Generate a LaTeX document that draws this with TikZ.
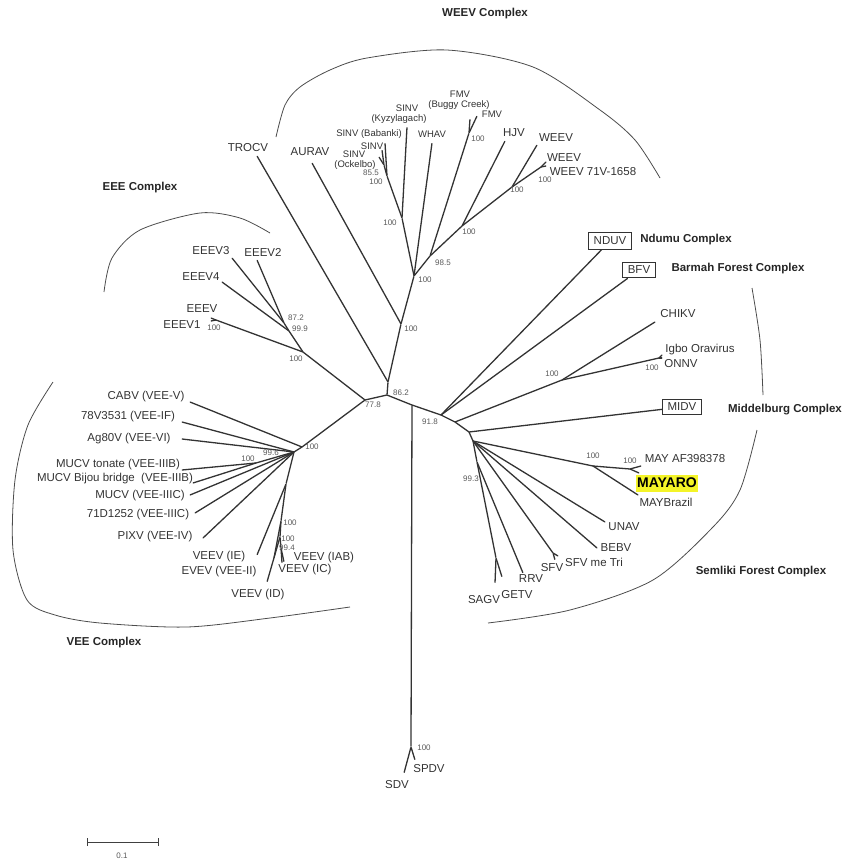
\documentclass[tikz,border=0pt]{standalone}
\usepackage{fontspec}
\setmainfont{Liberation Sans}
\definecolor{hl}{RGB}{244,244,40}
\begin{document}
\begin{tikzpicture}[x=1pt,y=-1pt]
\tikzstyle{every node}=[inner sep=0pt, minimum width=0pt, text=black!80]
\tikzstyle{lbl}=[font=\fontsize{11.5}{12}\selectfont]
\tikzstyle{lbs}=[font=\fontsize{9.5}{10}\selectfont]
\tikzstyle{bs}=[font=\fontsize{8}{8}\selectfont, text=black!65]
\tikzstyle{cplx}=[font=\fontsize{11.5}{12}\selectfont\bfseries, text=black!85]
\tikzstyle{vbox}=[draw=black!80, line width=1pt, inner xsep=5pt, inner ysep=4pt, lbl]
\tikzstyle{br}=[line width=1.3pt, black!80, line cap=round]
\tikzstyle{arc}=[line width=0.8pt, black!70]
\useasboundingbox (0,0) rectangle (842,862);
% inner nodes
\draw (412,405) node (cbase) {};
\draw (387,395) node (c862) {};
\draw (365,400) node (c778) {};
\draw (388,382) node (ctr) {};
\draw (401,324) node (c100a) {};
\draw (414,276) node (cW0) {};
\draw (402,218) node (cS1) {};
\draw (387,176) node (cS2) {};
\draw (384,165) node (cS3) {};
\draw (430,256) node (c985) {};
\draw (469,133) node (cFMV) {};
\draw (462,226) node (cHJV) {};
\draw (512,187) node (cWE) {};
\draw (541,167) node (cWE71) {};
\draw (303,352) node (cE0) {};
\draw (289,331) node (cE99) {};
\draw (284,323) node (cE87) {};
\draw (216,320) node (cE1) {};
\draw (302,447) node (cV0) {};
\draw (294,452) node (cJ) {};
\draw (256,463) node (cM) {};
\draw (286,484) node (cK) {};
\draw (281,521) node (cL) {};
\draw (280,537) node (cN) {};
\draw (281,548) node (cO) {};
\draw (411,747) node (cSD) {};
\draw (441,415) node (cR0) {};
\draw (455,422) node (cR2) {};
\draw (469,432) node (cR3) {};
\draw (473,441) node (cR4) {};
\draw (562,380) node (cCH) {};
\draw (659,358) node (cON) {};
\draw (477,462) node (cP) {};
\draw (496,558) node (cSG) {};
\draw (553,553) node (cSF) {};
\draw (593,466) node (cMA) {};
\draw (630,469) node (cMA2) {};
% leaves
\draw (257,156) node (lTROCV) {};
\draw (312,163) node (lAURAV) {};
\draw (407,127) node (lKyz) {};
\draw (385,143) node (lBab) {};
\draw (382,150) node (lSINV) {};
\draw (379,157) node (lOck) {};
\draw (432,143) node (lWHAV) {};
\draw (470,119) node (lFMVbc) {};
\draw (477,116) node (lFMV) {};
\draw (505,141) node (lHJV) {};
\draw (537,145) node (lWEEV) {};
\draw (546,162) node (lWEEVa) {};
\draw (546,166) node (lWEEVb) {};
\draw (232,258) node (lEEEV3) {};
\draw (257,260) node (lEEEV2) {};
\draw (222,282) node (lEEEV4) {};
\draw (211,318) node (lEEEV) {};
\draw (211,321) node (lEEEV1) {};
\draw (190,402) node (lCABV) {};
\draw (182,422) node (l78V) {};
\draw (182,439) node (lAg80) {};
\draw (182,470) node (lTon) {};
\draw (193,483) node (lBij) {};
\draw (190,495) node (lMUC) {};
\draw (195,513) node (l71D) {};
\draw (203,538) node (lPIXV) {};
\draw (257,555) node (lIE) {};
\draw (274,558) node (lEVEV) {};
\draw (267,582) node (lID) {};
\draw (284,562) node (lIAB) {};
\draw (282,563) node (lIC) {};
\draw (404,773) node (lSDV) {};
\draw (415,760) node (lSPDV) {};
\draw (655,322) node (lCHIKV) {};
\draw (662,355) node (lIgbo) {};
\draw (662,358) node (lONNV) {};
\draw (641,466) node (lMAYAF) {};
\draw (639,473) node (lMAYARO) {};
\draw (638,495) node (lMAYBr) {};
\draw (605,522) node (lUNAV) {};
\draw (597,548) node (lBEBV) {};
\draw (555,560) node (lSFV) {};
\draw (558,556) node (lSFVme) {};
\draw (523,573) node (lRRV) {};
\draw (495,583) node (lSAGV) {};
\draw (502,577) node (lGETV) {};
% boxed taxa
\node (NDUV) [vbox] at (610,241) {NDUV};
\node (BFV) [vbox] at (639,270) {BFV};
\node (MIDV) [vbox] at (682,407) {MIDV};
% branches
\draw[br] (c778) -- (c862) -- (cbase) -- (cR0) -- (cR2) -- (cR3) -- (cR4);
\draw[br] (cbase) -- (cSD);
\draw[br] (cSD) -- (lSDV);
\draw[br] (cSD) -- (lSPDV);
\draw[br] (c862) -- (ctr);
\draw[br] (ctr) -- (c100a);
\draw[br] (c100a) -- (cW0);
\draw[br] (ctr) -- (lTROCV);
\draw[br] (c100a) -- (lAURAV);
\draw[br] (cW0) -- (cS1);
\draw[br] (cS1) -- (lKyz);
\draw[br] (cS1) -- (cS2);
\draw[br] (cS2) -- (lBab);
\draw[br] (cS2) -- (cS3);
\draw[br] (cS3) -- (lSINV);
\draw[br] (cS3) -- (lOck);
\draw[br] (cW0) -- (lWHAV);
\draw[br] (cW0) -- (c985);
\draw[br] (c985) -- (cFMV);
\draw[br] (cFMV) -- (lFMVbc);
\draw[br] (cFMV) -- (lFMV);
\draw[br] (c985) -- (cHJV);
\draw[br] (cHJV) -- (lHJV);
\draw[br] (cHJV) -- (cWE);
\draw[br] (cWE) -- (lWEEV);
\draw[br] (cWE) -- (cWE71);
\draw[br] (cWE71) -- (lWEEVa);
\draw[br] (cWE71) -- (lWEEVb);
\draw[br] (c778) -- (cE0);
\draw[br] (cE0) -- (cE1);
\draw[br] (cE1) -- (lEEEV);
\draw[br] (cE1) -- (lEEEV1);
\draw[br] (cE0) -- (cE99);
\draw[br] (cE99) -- (lEEEV4);
\draw[br] (cE99) -- (cE87);
\draw[br] (cE87) -- (lEEEV3);
\draw[br] (cE87) -- (lEEEV2);
\draw[br] (c778) -- (cV0);
\draw[br] (cV0) -- (lCABV);
\draw[br] (cV0) -- (cJ);
\draw[br] (cJ) -- (l78V);
\draw[br] (cJ) -- (lAg80);
\draw[br] (cJ) -- (cM);
\draw[br] (cM) -- (lTon);
\draw[br] (cM) -- (lBij);
\draw[br] (cJ) -- (lMUC);
\draw[br] (cJ) -- (l71D);
\draw[br] (cJ) -- (lPIXV);
\draw[br] (cJ) -- (cK);
\draw[br] (cK) -- (lIE);
\draw[br] (cK) -- (cL);
\draw[br] (cL) -- (lEVEV);
\draw[br] (cL) -- (cN);
\draw[br] (cN) -- (lID);
\draw[br] (cN) -- (cO);
\draw[br] (cO) -- (lIAB);
\draw[br] (cO) -- (lIC);
\draw[br] (cR0) -- (NDUV);
\draw[br] (cR0) -- (BFV);
\draw[br] (cR2) -- (cCH);
\draw[br] (cCH) -- (lCHIKV);
\draw[br] (cCH) -- (cON);
\draw[br] (cON) -- (lIgbo);
\draw[br] (cON) -- (lONNV);
\draw[br] (cR3) -- (MIDV);
\draw[br] (cR4) -- (cMA);
\draw[br] (cMA) -- (cMA2);
\draw[br] (cMA2) -- (lMAYAF);
\draw[br] (cMA2) -- (lMAYARO);
\draw[br] (cMA) -- (lMAYBr);
\draw[br] (cR4) -- (lUNAV);
\draw[br] (cR4) -- (lBEBV);
\draw[br] (cR4) -- (cSF);
\draw[br] (cSF) -- (lSFV);
\draw[br] (cSF) -- (lSFVme);
\draw[br] (cR4) -- (cP);
\draw[br] (cP) -- (lRRV);
\draw[br] (cP) -- (cSG);
\draw[br] (cSG) -- (lSAGV);
\draw[br] (cSG) -- (lGETV);
% support values
\node (b862) [bs] at (401,393) {86.2};
\node (b778) [bs] at (373,405) {77.8};
\node (b918) [bs] at (430,422) {91.8};
\node (b100a) [bs] at (411,329) {100};
\node (bW0) [bs] at (425,280) {100};
\node (bS1) [bs] at (390,223) {100};
\node (bS3) [bs] at (371,173) {85.5};
\node (bS2) [bs] at (376,182) {100};
\node (b985) [bs] at (443,263) {98.5};
\node (bFMV) [bs] at (478,139) {100};
\node (bHJV) [bs] at (469,232) {100};
\node (bWE) [bs] at (517,190) {100};
\node (bWE71) [bs] at (545,180) {100};
\node (bE0) [bs] at (296,359) {100};
\node (bE99) [bs] at (300,329) {99.9};
\node (bE87) [bs] at (296,318) {87.2};
\node (bE1) [bs] at (214,328) {100};
\node (bV0) [bs] at (312,447) {100};
\node (bJ) [bs] at (271,453) {99.6};
\node (bM) [bs] at (248,459) {100};
\node (bL) [bs] at (290,523) {100};
\node (bN) [bs] at (288,539) {100};
\node (bO) [bs] at (287,548) {99.4};
\node (bSD) [bs] at (424,748) {100};
\node (bCH) [bs] at (552,374) {100};
\node (bON) [bs] at (652,368) {100};
\node (bMA) [bs] at (593,456) {100};
\node (bMA2) [bs] at (630,461) {100};
\node (bP) [bs] at (471,479) {99.3};
% taxon names
\node (tTROCV) [lbl] at (248,148) {TROCV};
\node (tAURAV) [lbl] at (310,152) {AURAV};
\node (tBab) [lbs] at (369,134) {SINV (Babanki)};
\node (tSINV) [lbs] at (372,146) {SINV};
\node (tOck) [lbs] at (354,154) {SINV};
\node (tOck2) [lbs] at (355,165) {(Ockelbo)};
\node (tKyz) [lbs] at (407,108) {SINV};
\node (tKyz2) [lbs] at (399,119) {(Kyzylagach)};
\node (tWHAV) [lbs] at (432,134) {WHAV};
\node (tFMVbc) [lbs] at (460,94) {FMV};
\node (tFMVbc2) [lbs] at (459,105) {(Buggy Creek)};
\node (tFMV) [lbs] at (492,114) {FMV};
\node (tHJV) [lbl] at (514,133) {HJV};
\node (tWEEV) [lbl] at (556,138) {WEEV};
\node (tWEEVa) [lbl] at (564,158) {WEEV};
\node (tWEEVb) [lbl] at (593,172) {WEEV 71V-1658};
\node (tEEEV3) [lbl] at (211,251) {EEEV3};
\node (tEEEV2) [lbl] at (263,252) {EEEV2};
\node (tEEEV4) [lbl] at (201,277) {EEEV4};
\node (tEEEV) [lbl] at (202,309) {EEEV};
\node (tEEEV1) [lbl] at (182,325) {EEEV1};
\node (tCABV) [lbl] at (146,397) {CABV (VEE-V)};
\node (t78V) [lbl] at (128,417) {78V3531 (VEE-IF)};
\node (tAg80) [lbl] at (129,439) {Ag80V (VEE-VI)};
\node (tTon) [lbl] at (118,465) {MUCV tonate (VEE-IIIB)};
\node (tBij) [lbl] at (115,479) {MUCV Bijou bridge\ \ (VEE-IIIB)};
\node (tMUC) [lbl] at (140,496) {MUCV (VEE-IIIC)};
\node (t71D) [lbl] at (138,515) {71D1252 (VEE-IIIC)};
\node (tPIXV) [lbl] at (155,537) {PIXV (VEE-IV)};
\node (tIE) [lbl] at (219,557) {VEEV (IE)};
\node (tEVEV) [lbl] at (219,572) {EVEV (VEE-II)};
\node (tID) [lbl] at (258,595) {VEEV (ID)};
\node (tIAB) [lbl] at (324,558) {VEEV (IAB)};
\node (tIC) [lbl] at (305,570) {VEEV (IC)};
\node (tSDV) [lbl] at (397,785) {SDV};
\node (tSPDV) [lbl] at (429,769) {SPDV};
\node (tCHIKV) [lbl] at (678,314) {CHIKV};
\node (tIgbo) [lbl] at (700,350) {Igbo Oravirus};
\node (tONNV) [lbl] at (681,364) {ONNV};
\node (tMAYAF) [lbl] at (685,459) {MAY AF398378};
\node (tMAYARO) [fill=hl, inner xsep=1.5pt, minimum height=17pt, text=black, font=\fontsize{14}{14}\selectfont\bfseries] at (667,483) {MAYARO};
\node (tMAYBr) [lbl] at (666,502) {MAYBrazil};
\node (tUNAV) [lbl] at (624,527) {UNAV};
\node (tBEBV) [lbl] at (616,548) {BEBV};
\node (tSFVme) [lbl] at (594,562) {SFV me Tri};
\node (tSFV) [lbl] at (552,568) {SFV};
\node (tRRV) [lbl] at (531,579) {RRV};
\node (tGETV) [lbl] at (517,595) {GETV};
\node (tSAGV) [lbl] at (484,600) {SAGV};
% complexes
\node (kWEEV) [cplx] at (485,14) {WEEV Complex};
\node (kEEE) [cplx] at (140,188) {EEE Complex};
\node (kNDU) [cplx] at (686,240) {Ndumu Complex};
\node (kBF) [cplx] at (738,269) {Barmah Forest Complex};
\node (kMID) [cplx] at (785,410) {Middelburg Complex};
\node (kSF) [cplx] at (761,572) {Semliki Forest Complex};
\node (kVEE) [cplx] at (104,643) {VEE Complex};
\draw[arc] plot[smooth] coordinates {(276,137) (285,105) (300,87) (330,70) (367,58) (447,50) (533,67) (600,110) (635,140) (660,178)};
\draw[arc] plot[smooth] coordinates {(104,292) (112,258) (140,230) (200,213) (240,218) (270,233)};
\draw[arc] plot[smooth] coordinates {(53,382) (28,425) (15,480) (13,550) (27,600) (55,615) (100,623) (187,627) (270,618) (350,607)};
\draw[arc] plot[smooth] coordinates {(752,288) (760,340) (763,395)};
\draw[arc] plot[smooth] coordinates {(757,430) (740,490) (713,527) (653,580) (570,610) (488,623)};
% scale bar
\coordinate (s0) at (87,842);
\coordinate (s1) at (158,842);
\draw[line width=1pt, black!75] (s0) -- (s1);
\draw[line width=0.8pt, black!75] ([yshift=-4]s0) -- ([yshift=4]s0);
\draw[line width=0.8pt, black!75] ([yshift=-4]s1) -- ([yshift=4]s1);
\node (tscale) [bs] at (122,856) {0.1};
\end{tikzpicture}
\end{document}
